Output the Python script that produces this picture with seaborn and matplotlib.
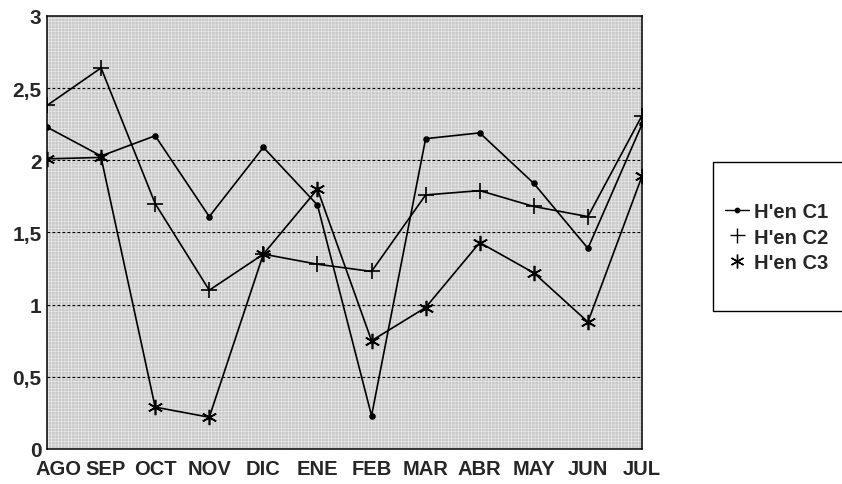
import pandas as pd
import matplotlib.pyplot as plt
import seaborn as sns
from matplotlib.lines import Line2D
from matplotlib.patches import Rectangle
from matplotlib.transforms import ScaledTranslation

months = ['AGO', 'SEP', 'OCT', 'NOV', 'DIC', 'ENE', 'FEB', 'MAR', 'ABR', 'MAY', 'JUN', 'JUL']
c1 = [2.23, 2.03, 2.17, 1.61, 2.09, 1.69, 0.23, 2.15, 2.19, 1.84, 1.39, 2.25]
c2 = [2.38, 2.64, 1.70, 1.10, 1.35, 1.28, 1.23, 1.76, 1.79, 1.68, 1.61, 2.31]
c3 = [2.01, 2.02, 0.29, 0.22, 1.35, 1.80, 0.75, 0.98, 1.43, 1.22, 0.88, 1.89]
series_names = ["H'en C1", "H'en C2", "H'en C3"]
yticks = [0, 0.5, 1, 1.5, 2, 2.5, 3]
ytick_labels = ['0', '0,5', '1', '1,5', '2', '2,5', '3']

sns.set_style('white')
plt.rcParams['font.family'] = ['Liberation Sans', 'DejaVu Sans']
plt.rcParams['hatch.linewidth'] = 0.4

fig = plt.figure(figsize=(8.42, 4.85), dpi=100)
ax = fig.add_axes([0.0558, 0.0722, 0.7067, 0.8928])
ax.set_facecolor('#cacaca')
ax.patch.set_hatch('+++++')
ax.patch.set_edgecolor('#ebebeb')

markers = ['o', '+', (6, 2, 0)]
msizes = [3.5, 12, 11]
x = list(range(len(months)))

for vals, name, mk, ms in zip([c1, c2, c3], series_names, markers, msizes):
    sns.lineplot(x=x, y=vals, color='black', marker=mk, markersize=ms,
                 markeredgewidth=1.2, markeredgecolor='black', linewidth=1.2,
                 ax=ax, zorder=3)

ax.set_xlim(0, 11)
ax.set_ylim(0, 3)
ax.set_yticks(yticks)
ax.set_yticklabels(ytick_labels, fontsize=15, fontweight='bold')
ax.set_xticks(x)
ax.set_xticklabels(months, fontsize=14.5, fontweight='bold')
ax.tick_params(axis='y', length=0, pad=4)
ax.tick_params(axis='x', length=0, pad=7)
# first labels nudged right like the original
for lab, dx in zip(ax.get_xticklabels()[:2], [12, 4]):
    lab.set_transform(lab.get_transform() + ScaledTranslation(dx / 100, 0, fig.dpi_scale_trans))
for y in yticks[1:-1]:
    ax.axhline(y, color='black', linestyle=(0, (2.5, 2)), linewidth=0.8, zorder=1.5)
for s in ax.spines.values():
    s.set_color('black')
    s.set_linewidth(1.1)

# legend box (runs off the right edge like the original)
fig.patches.append(Rectangle((713 / 842, 1 - 312 / 485), 0.2, 149 / 485,
                             transform=fig.transFigure, facecolor='white',
                             edgecolor='black', linewidth=1.0))
handles = []
for i, (mk, ms) in enumerate(zip(markers, msizes)):
    h = Line2D([], [], color='black', linewidth=1, marker=mk,
               markersize=ms * 0.9, markeredgewidth=1)
    if i > 0:
        h.set_linestyle('none')
    handles.append(h)
leg = fig.legend(handles, series_names, loc='center left',
                 bbox_to_anchor=(725 / 842, 1 - 238 / 485),
                 prop={'size': 14.5, 'weight': 'bold'}, frameon=False, handlelength=1.2,
                 handletextpad=0.25, labelspacing=0.32, borderpad=0, borderaxespad=0)

fig.savefig('out.png', dpi=100)
